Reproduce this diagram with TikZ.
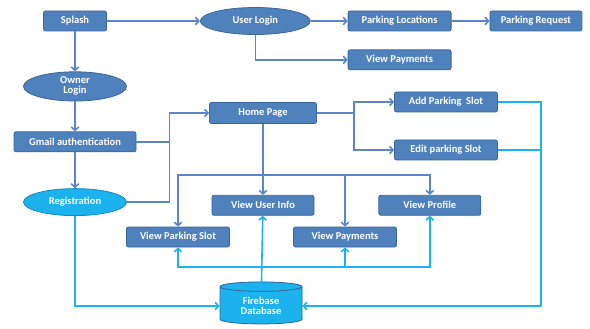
\documentclass[tikz,border=0pt]{standalone}
\usepackage{fontspec}
\setmainfont{Carlito}
\usepackage{tikz}
\usetikzlibrary{arrows.meta,positioning,shapes.geometric,calc}

\definecolor{boxblue}{HTML}{4F81BD}
\definecolor{boxedge}{HTML}{3A659A}
\definecolor{lineblue}{HTML}{5A85C8}
\definecolor{skyblue}{HTML}{1BB2EE}
\definecolor{skyedge}{HTML}{1688BE}

\begin{document}
\begin{tikzpicture}[
  font=\fontsize{10.5}{12}\selectfont\bfseries,
  >={Straight Barb[length=3.4pt,width=7.5pt]},
  box/.style={draw=boxedge,fill=boxblue,text=white,rounded corners=2pt,
              align=center,minimum height=20pt,minimum width=103pt,inner sep=2pt,line width=0.8pt},
  oval/.style={ellipse,draw=boxedge,fill=boxblue,text=white,align=center,
               minimum width=103pt,minimum height=26pt,inner sep=1pt,line width=0.8pt},
  regoval/.style={oval,draw=skyedge,fill=skyblue},
  db/.style={cylinder,shape border rotate=90,aspect=0.22,draw=boxedge,
             fill=skyblue,cylinder uses custom fill,cylinder body fill=skyblue,
             cylinder end fill=skyblue!80!white,text=white,align=center,
             minimum width=82pt,minimum height=42pt,inner sep=1pt,line width=0.8pt},
  flow/.style={->,line width=1.6pt,lineblue},
  link/.style={line width=1.6pt,lineblue},
  cflow/.style={->,line width=1.6pt,skyblue},
  clink/.style={line width=1.6pt,skyblue},
]
\useasboundingbox (0,0) rectangle (590pt,-329pt);

% ---- user side (top row) ---------------------------------------------
\node[box,minimum width=63pt] (splash) at (75pt,-21pt) {Splash};
\node[oval,minimum width=110pt,minimum height=27pt,right=93pt of splash] (ulogin) {User Login};
\node[box,right=37pt of ulogin] (ploc) {Parking Locations};
\node[box,minimum width=92pt,right=38pt of ploc] (preq) {Parking Request};
\node[box,below=18pt of ploc] (upay) {View Payments};

\draw[flow] (splash) -- (ulogin);
\draw[flow] (ulogin) -- (ploc);
\draw[flow] (ploc) -- (preq);
\draw[flow] (ulogin.south) |- (upay);

% ---- owner side (left column) ----------------------------------------
\node[oval,below=40pt of splash] (ologin) {Owner\\[-2pt]Login};
\node[box,minimum width=122pt,below=30pt of ologin] (gmail) {Gmail authentication};
\node[regoval,minimum height=27pt,below=36pt of gmail] (reg) {Registration};

\draw[flow] (splash) -- (ologin);
\draw[flow] (ologin) -- (gmail);
\draw[flow] (gmail) -- (reg);

% ---- home page and its branches --------------------------------------
\node[box,minimum width=107pt,minimum height=21pt] (home) at (263pt,-113pt) {Home Page};
\node[box] (addslot)  at (446pt,-102pt) {Add Parking~ Slot};
\node[box] (editslot) at (446pt,-150pt) {Edit parking Slot};

\coordinate (jg) at ($(gmail.east)+(33pt,0)$);
\draw[flow] (gmail) -- (jg) |- (home);
\draw[link] (reg) -| (jg);

\coordinate (jh) at ($(home.east)+(37pt,0)$);
\draw[link] (home) -- (jh);
\draw[flow] (jh) |- (addslot);
\draw[flow] (jh) |- (editslot);

% ---- view pages --------------------------------------------------------
\node[box,minimum width=102pt,below=71pt of home] (uinfo) {View User Info};
\node[box,minimum width=102pt,right=64pt of uinfo] (profile) {View Profile};
\node[box] (pslot) at (178pt,-237pt) {View Parking Slot};
\node[box] (opay)  at (345pt,-237pt) {View Payments};

\coordinate (jv) at ($(home.south)+(0,-51pt)$);
\draw[flow] (home) -- (uinfo);
\draw[flow] (jv) -| (pslot);
\draw[flow] (jv) -| (opay);
\draw[flow] (jv) -| (profile);

% ---- firebase and data links ------------------------------------------
\node[db] (fb) at (261pt,-306pt) {Firebase\\[-2pt]Database};

\coordinate (jd) at (261pt,-267pt);
\coordinate (jr) at (541pt,-306pt);
\draw[cflow] (fb) -- (uinfo);
\draw[cflow] (jd) -| (pslot);
\draw[cflow] (jd) -| (opay);
\draw[cflow] (jd) -| (profile);
\draw[cflow] (reg) |- (fb);
\draw[clink] (addslot) -| (jr);
\draw[clink] (editslot.east) -- (editslot.east -| jr);
\draw[cflow] (jr) -- (fb);

\end{tikzpicture}
\end{document}
